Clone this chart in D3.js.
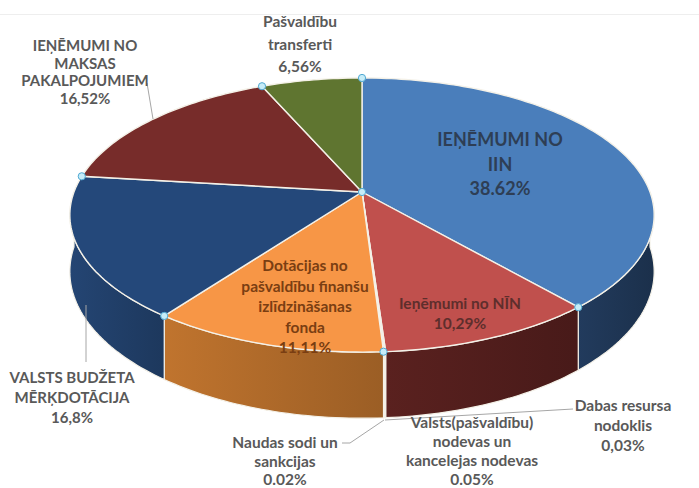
<!DOCTYPE html>
<html>
<head>
<meta charset="utf-8">
<script src="https://cdn.jsdelivr.net/npm/d3@7"></script>
<style>
  body { margin: 0; background: #fff; }
  svg { display: block; }
  text { font-family: Lato, "Open Sans", sans-serif; font-weight: bold; }
</style>
</head>
<body>
<div id="chart"></div>
<script>
// slices in drawing order, clockwise from 12 o'clock
var names = [
  ["IEŅĒMUMI NO", "IIN"],
  ["Ieņēmumi no NĪN"],
  ["Dabas resursa", "nodoklis"],
  ["Valsts(pašvaldību)", "nodevas un", "kancelejas nodevas"],
  ["Naudas sodi un", "sankcijas"],
  ["Dotācijas no", "pašvaldību finanšu", "izlīdzināšanas", "fonda"],
  ["VALSTS BUDŽETA", "MĒRĶDOTĀCIJA"],
  ["IEŅĒMUMI NO", "MAKSAS", "PAKALPOJUMIEM"],
  ["Pašvaldību", "transferti"]
];
var values = [38.62, 10.29, 0.03, 0.05, 0.02, 11.11, 16.8, 16.52, 6.56];
var pct_labels = ["38.62%", "10,29%", "0,03%", "0.05%", "0.02%", "11,11%", "16,8%", "16,52%", "6,56%"];

var top_colors  = ["#4a7ebb", "#c0504d", "#8064a2", "#4bacc6", "#9bbb59", "#f79646", "#24487a", "#772c2a", "#5f7530"];
var side_colors = ["#1f3655", "#521e1c", "#3f2f55", "#2a5a66", "#4a5a2a", "#b06a2a", "#213f69", "#4a1a19", "#3a4a1c"];

// label layout: centre x, first line centre y, line step, size, colour
var label_layout = [
  {x: 500, y: 139, step: 24.5, size: 18, color: "#2e3e55"},
  {x: 460, y: 303, step: 20, size: 15.5, color: "#5e2e2c"},
  {x: 623, y: 405, step: 20, size: 15.5, color: "#595959"},
  {x: 472, y: 422, step: 19, size: 15.5, color: "#595959"},
  {x: 285, y: 442, step: 18.5, size: 15.5, color: "#595959"},
  {x: 305, y: 265, step: 20.5, size: 15.5, color: "#7a3e12"},
  {x: 72, y: 377, step: 20, size: 15, color: "#595959"},
  {x: 85, y: 45, step: 17.7, size: 15, color: "#595959"},
  {x: 300, y: 21, step: 22.5, size: 15.5, color: "#595959"}
];
var leaders = [
  [[147, 83], [153, 119]],
  [[86, 305], [86, 362]],
  [[573, 409], [385, 420]],
  [[342, 443], [350, 443], [384, 420]]
];

var width = 699, height = 488;
var cx = 362, cy = 192;      // apex of the pie
var sx = 288, sy = 133.2;    // radii of the top face
var k = 0.168;               // perspective strength
var depth = 55;              // thickness

var svg = d3.select("#chart").append("svg")
  .attr("width", width)
  .attr("height", height);

var defs = svg.append("defs");

// faint frame line at the top
svg.append("line")
  .attr("x1", 0).attr("x2", width)
  .attr("y1", 14.5).attr("y2", 14.5)
  .attr("stroke", "#eeeeee").attr("stroke-width", 1);

var pie = d3.pie().sort(null).value(function(d) { return d; })
  .startAngle(0).endAngle(2 * Math.PI);
var arcs = pie(values);

function proj(a, r, z) {
  var x = r * Math.sin(a), y = -r * Math.cos(a);
  var w = 1 - k * y;
  return [cx + sx * x / w, cy + sy * y / w + z * depth / w];
}

function samples(a0, a1) {
  var n = Math.max(2, Math.ceil((a1 - a0) / 0.02));
  return d3.range(n + 1).map(function(i) { return a0 + (a1 - a0) * i / n; });
}

var line = d3.line();

// walls (front half only)
var walls = svg.append("g");
arcs.forEach(function(d, i) {
  var a0 = Math.max(d.startAngle, Math.PI / 2);
  var a1 = Math.min(d.endAngle, Math.PI * 3 / 2);
  if (a1 <= a0) return;
  var topPts = samples(a0, a1).map(function(a) { return proj(a, 1, 0); });
  var botPts = samples(a0, a1).reverse().map(function(a) { return proj(a, 1, 1); });
  var gid = "wall-" + i;
  var xs = topPts.map(function(p) { return p[0]; });
  var g = defs.append("linearGradient").attr("id", gid)
    .attr("gradientUnits", "userSpaceOnUse")
    .attr("x1", d3.min(xs)).attr("x2", d3.max(xs)).attr("y1", 0).attr("y2", 0);
  var c = d3.color(side_colors[i]);
  g.append("stop").attr("offset", 0).attr("stop-color", c.brighter(0.25));
  g.append("stop").attr("offset", 1).attr("stop-color", c.darker(0.35));
  walls.append("path")
    .attr("d", line(topPts.concat(botPts)) + "Z")
    .attr("fill", "url(#" + gid + ")")
    .attr("stroke", "#f4f1e8")
    .attr("stroke-width", 1.2)
    .attr("stroke-linejoin", "round");
});

// top faces
var tops = svg.append("g");
arcs.forEach(function(d, i) {
  var pts = [[cx, cy]].concat(samples(d.startAngle, d.endAngle).map(function(a) { return proj(a, 1, 0); }));
  tops.append("path")
    .attr("d", line(pts) + "Z")
    .attr("fill", top_colors[i])
    .attr("stroke", "#f4f1e8")
    .attr("stroke-width", 1.4)
    .attr("stroke-linejoin", "round");
});

// boundary markers
var marks = arcs.filter(function(d) { return d.value > 1; })
  .map(function(d) { return proj(d.startAngle, 1, 0); });
marks.push([cx, cy]);
svg.append("g").selectAll("circle")
  .data(marks)
  .enter().append("circle")
  .attr("cx", function(d) { return d[0]; })
  .attr("cy", function(d) { return d[1]; })
  .attr("r", 3.6)
  .attr("fill", "#c6ecf8")
  .attr("stroke", "#4fa8d2")
  .attr("stroke-width", 1);

// leader lines
svg.append("g").selectAll("path")
  .data(leaders)
  .enter().append("path")
  .attr("d", function(d) { return line(d); })
  .attr("fill", "none")
  .attr("stroke", "#a6a6a6")
  .attr("stroke-width", 1);

// labels
var labels = svg.append("g");
names.forEach(function(lines, i) {
  var L = label_layout[i];
  var all = lines.concat([pct_labels[i]]);
  var t = labels.append("text")
    .attr("text-anchor", "middle")
    .attr("fill", L.color)
    .attr("font-size", L.size + "px");
  all.forEach(function(s, j) {
    t.append("tspan")
      .attr("x", L.x)
      .attr("y", L.y + j * L.step)
      .attr("dominant-baseline", "central")
      .text(s);
  });
});
</script>
</body>
</html>
